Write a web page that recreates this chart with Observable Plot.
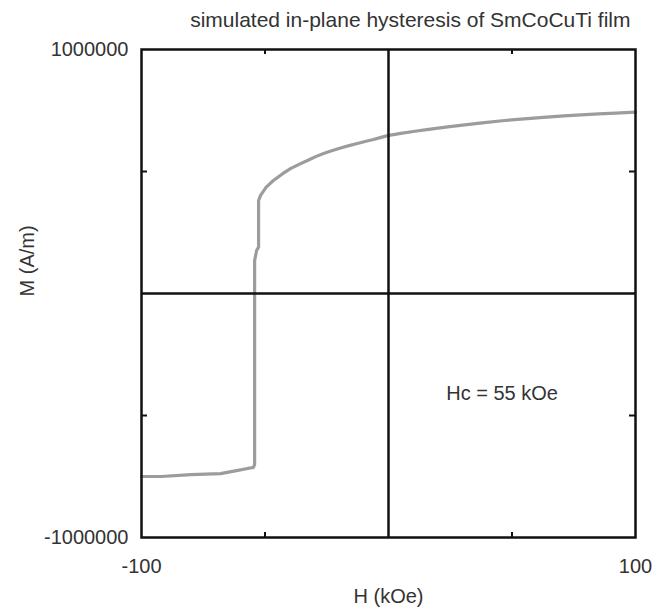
<!DOCTYPE html>
<html>
<head>
<meta charset="utf-8">
<script src="https://cdn.jsdelivr.net/npm/d3@7"></script>
<script src="https://cdn.jsdelivr.net/npm/@observablehq/plot@0.6"></script>
<style>
  html, body { margin: 0; padding: 0; background: #fff; }
  #chart svg { display: block; }
</style>
</head>
<body>
<div id="chart"></div>
<script>
// Applied field H (kOe) along the simulated loop branch
const fieldKOe = [
  -100, -92, -80, -68, -61, -57, -54.7, -54.2, -54.2, -53.4, -52.6, -52.6,
  -51.8, -49.5, -46.6, -43, -39.7, -36, -32.8, -29.5, -26.3, -23, -19.4, -16, -12.6, -9.5, -6.1, -3, -0.4,
  5, 10, 17, 24, 30, 37, 47, 57.5, 64, 71, 78, 85, 92, 100
];
// Magnetization M (A/m)
const magnetization = [
  -750000, -750000, -742000, -738000, -725000, -717000, -713000, -700000, 135000, 176000, 190000, 381000,
  402000, 436000, 463000, 490000, 512000, 530000, 545000, 561000, 574000, 585000, 596000, 606000, 615000, 623000, 631000, 640000, 647000,
  656000, 664000, 674000, 683000, 690000, 698000, 709000, 718000, 723000, 728000, 732000, 736000, 739000, 743000
];
const xTickLabels = [-100, 100];
const yTickLabels = [-1000000, 1000000];
const xMinorTicks = [-50, 50];
const yMinorTicks = [-500000, 500000];
const titleText = "simulated in-plane hysteresis of SmCoCuTi film";
const xLabel = "H (kOe)";
const yLabel = "M (A/m)";
const noteText = ["Hc = 55 kOe"];
const noteH = [46];
const noteM = [-410000];

const data = fieldKOe.map((h, i) => ({h, m: magnetization[i]}));
const notes = noteText.map((t, i) => ({t, h: noteH[i], m: noteM[i]}));
const font = "'Liberation Sans', Arial, Helvetica, sans-serif";
const ink = "#111";
const txt = "#333";

const W = 669, H = 607, mL = 141, mR = 34, mT = 49, mB = 70;
const innerW = W - mL - mR, innerH = H - mT - mB;

const chart = Plot.plot({
  width: W,
  height: H,
  marginLeft: mL,
  marginRight: mR,
  marginTop: mT,
  marginBottom: mB,
  style: {fontFamily: font, fontSize: "20px", color: txt, background: "#fff", overflow: "visible"},
  x: {domain: [-100, 100]},
  y: {domain: [-1000000, 1000000]},
  marks: [
    Plot.line(data, {x: "h", y: "m", stroke: "#9c9c9c", strokeWidth: 3.2, strokeLinejoin: "round"}),
    Plot.ruleX([0], {stroke: ink, strokeWidth: 2.5}),
    Plot.ruleY([0], {stroke: ink, strokeWidth: 2.5}),
    // inward minor ticks
    Plot.ruleX(xMinorTicks, {stroke: ink, strokeWidth: 2, insetTop: innerH - 5}),
    Plot.ruleX(xMinorTicks, {stroke: ink, strokeWidth: 2, insetBottom: innerH - 5}),
    Plot.ruleY(yMinorTicks, {stroke: ink, strokeWidth: 2, insetRight: innerW - 6}),
    Plot.ruleY(yMinorTicks, {stroke: ink, strokeWidth: 2, insetLeft: innerW - 6}),
    Plot.frame({stroke: ink, strokeWidth: 2.5}),
    Plot.axisX(xTickLabels, {anchor: "bottom", tickSize: 0, tickPadding: 21, tickFormat: d => String(d), label: null, fontSize: 20, fill: txt}),
    Plot.axisY(yTickLabels, {anchor: "left", tickSize: 0, tickPadding: 13, tickFormat: d => String(d), label: null, fontSize: 20, fill: txt}),
    Plot.text([xLabel], {frameAnchor: "bottom", lineAnchor: "middle", dy: 59, fontSize: 20, fill: txt}),
    Plot.text([yLabel], {frameAnchor: "left", lineAnchor: "middle", rotate: -90, dx: -114, dy: 3, fontSize: 20, fill: txt}),
    Plot.text([titleText], {frameAnchor: "top-right", textAnchor: "end", lineAnchor: "middle", dx: -5, dy: -29.4, fontSize: 21, fill: txt}),
    Plot.text(notes, {x: "h", y: "m", text: "t", lineAnchor: "middle", fontSize: 20, fill: txt})
  ]
});
document.getElementById("chart").appendChild(chart);
</script>
</body>
</html>
